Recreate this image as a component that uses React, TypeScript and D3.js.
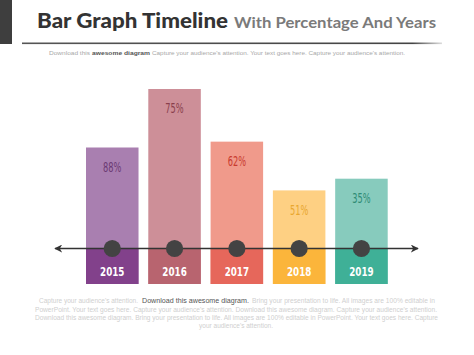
import React from "react";
import * as d3 from "d3";

const years = ["2015", "2016", "2017", "2018", "2019"];
const percentLabels = ["88%", "75%", "62%", "51%", "35%"];
const barValues = [70, 100, 73, 48, 54];

const lightColors = ["#a97fb0", "#cd8f98", "#f09a8b", "#fed083", "#87cbbd"];
const darkColors = ["#82418b", "#b8646f", "#e6675b", "#fbb53b", "#3fb097"];
const labelColors = ["#6b3a73", "#8a3f4d", "#c93a2f", "#e9a72f", "#2f8c75"];

const W = 474;
const H = 355;

export default function App() {
  const x = d3.scaleBand<string>().domain(years).range([86, 387.7]).paddingInner(0.157).paddingOuter(0);
  const y = d3.scaleLinear().domain([0, 100]).range([284, 89]);
  const base = y(0);
  const lineY = 248.5;
  const lightGray = "#cfcfcf";
  const bodyFont = "'Liberation Sans', Arial, sans-serif";
  const narrow = "'Liberation Sans Narrow', 'DejaVu Sans Condensed', sans-serif";
  const squeeze = (cx: number, s: number) => `translate(${cx},0) scale(${s},1) translate(${-cx},0)`;

  return (
    <svg width={W} height={H} style={{ position: "absolute", left: 0, top: 0, background: "#fff" }}>
      <defs>
        <linearGradient id="ul" x1="0" x2="1" y1="0" y2="0">
          <stop offset="0" stopColor="#555" />
          <stop offset="0.93" stopColor="#444" />
          <stop offset="1" stopColor="#ddd" />
        </linearGradient>
        <marker id="arrR" viewBox="0 0 10 10" refX="9" refY="5" markerWidth="5" markerHeight="5" orient="auto-start-reverse">
          <path d="M0,0 L10,5 L0,10 L3,5 z" fill="#333" />
        </marker>
      </defs>
      {/* header */}
      <rect x={0} y={0} width={12} height={44} fill="#3e3e3e" />
      <rect x={22} y={42.5} width={420} height={1.6} fill="url(#ul)" />
      <text x={37} y={27.5} fontFamily="Lato, sans-serif" fontWeight={900} fontSize={20.5} fill="#333" textLength={191} lengthAdjust="spacingAndGlyphs">
        Bar Graph Timeline
      </text>
      <text x={234} y={27.5} fontFamily="Lato, sans-serif" fontWeight={700} fontSize={14.5} fill="#7a7a7a" textLength={202} lengthAdjust="spacingAndGlyphs">
        With Percentage And Years
      </text>
      <g fontFamily={bodyFont} fontSize={6}>
        <text x={49} y={55} fill="#a8a8a8" textLength={41} lengthAdjust="spacingAndGlyphs">Download this</text>
        <text x={92} y={55} fill="#555" fontWeight={700} textLength={58} lengthAdjust="spacingAndGlyphs">awesome diagram</text>
        <text x={152} y={55} fill="#a8a8a8" textLength={253} lengthAdjust="spacingAndGlyphs">
          Capture your audience's attention. Your text goes here. Capture your audience's attention.
        </text>
      </g>

      {/* bars */}
      {years.map((yr, i) => {
        const bx = x(yr)!;
        const bw = x.bandwidth();
        const cx = bx + bw / 2;
        const top = y(barValues[i]);
        return (
          <g key={yr}>
            <rect x={bx} y={top} width={bw} height={base - top} fill={lightColors[i]} />
            <rect x={bx} y={lineY} width={bw} height={base - lineY} fill={darkColors[i]} />
            <text x={cx} y={top + 24.5} textAnchor="middle" fontFamily={narrow} fontSize={13.5} fill={labelColors[i]} transform={squeeze(cx, 0.68)}>
              {percentLabels[i]}
            </text>
            <text x={cx} y={276.5} textAnchor="middle" fontFamily={narrow} fontWeight={700} fontSize={13} fill="#fff" transform={squeeze(cx, 0.75)}>
              {yr}
            </text>
          </g>
        );
      })}

      {/* timeline */}
      <line x1={55} x2={418} y1={lineY} y2={lineY} stroke="#333" strokeWidth={1.6} markerEnd="url(#arrR)" markerStart="url(#arrR)" />
      {years.map((yr) => (
        <circle key={yr} cx={x(yr)! + x.bandwidth() / 2} cy={lineY} r={8.6} fill="#434343" />
      ))}

      {/* footer */}
      <g fontFamily={bodyFont} fontSize={6.5} fill={lightGray}>
        <text x={39} y={303} textLength={99} lengthAdjust="spacingAndGlyphs">Capture your audience's attention.</text>
        <text x={142} y={303} fill="#555" fontSize={8} textLength={107} lengthAdjust="spacingAndGlyphs">Download this  awesome diagram.</text>
        <text x={252} y={303} textLength={183} lengthAdjust="spacingAndGlyphs">Bring your presentation to life. All images are 100% editable in</text>
        <text x={35} y={311.5} textLength={402} lengthAdjust="spacingAndGlyphs">
          PowerPoint.  Your text goes here. Capture your audience's attention. Download this awesome diagram. Capture your audience's attention.
        </text>
        <text x={35} y={319.5} textLength={403} lengthAdjust="spacingAndGlyphs">
          Download this awesome diagram. Bring your presentation to life. All images are 100% editable in PowerPoint.  Your text goes here. Capture
        </text>
        <text x={236} y={327.5} textAnchor="middle">your audience's attention.</text>
      </g>
    </svg>
  );
}
